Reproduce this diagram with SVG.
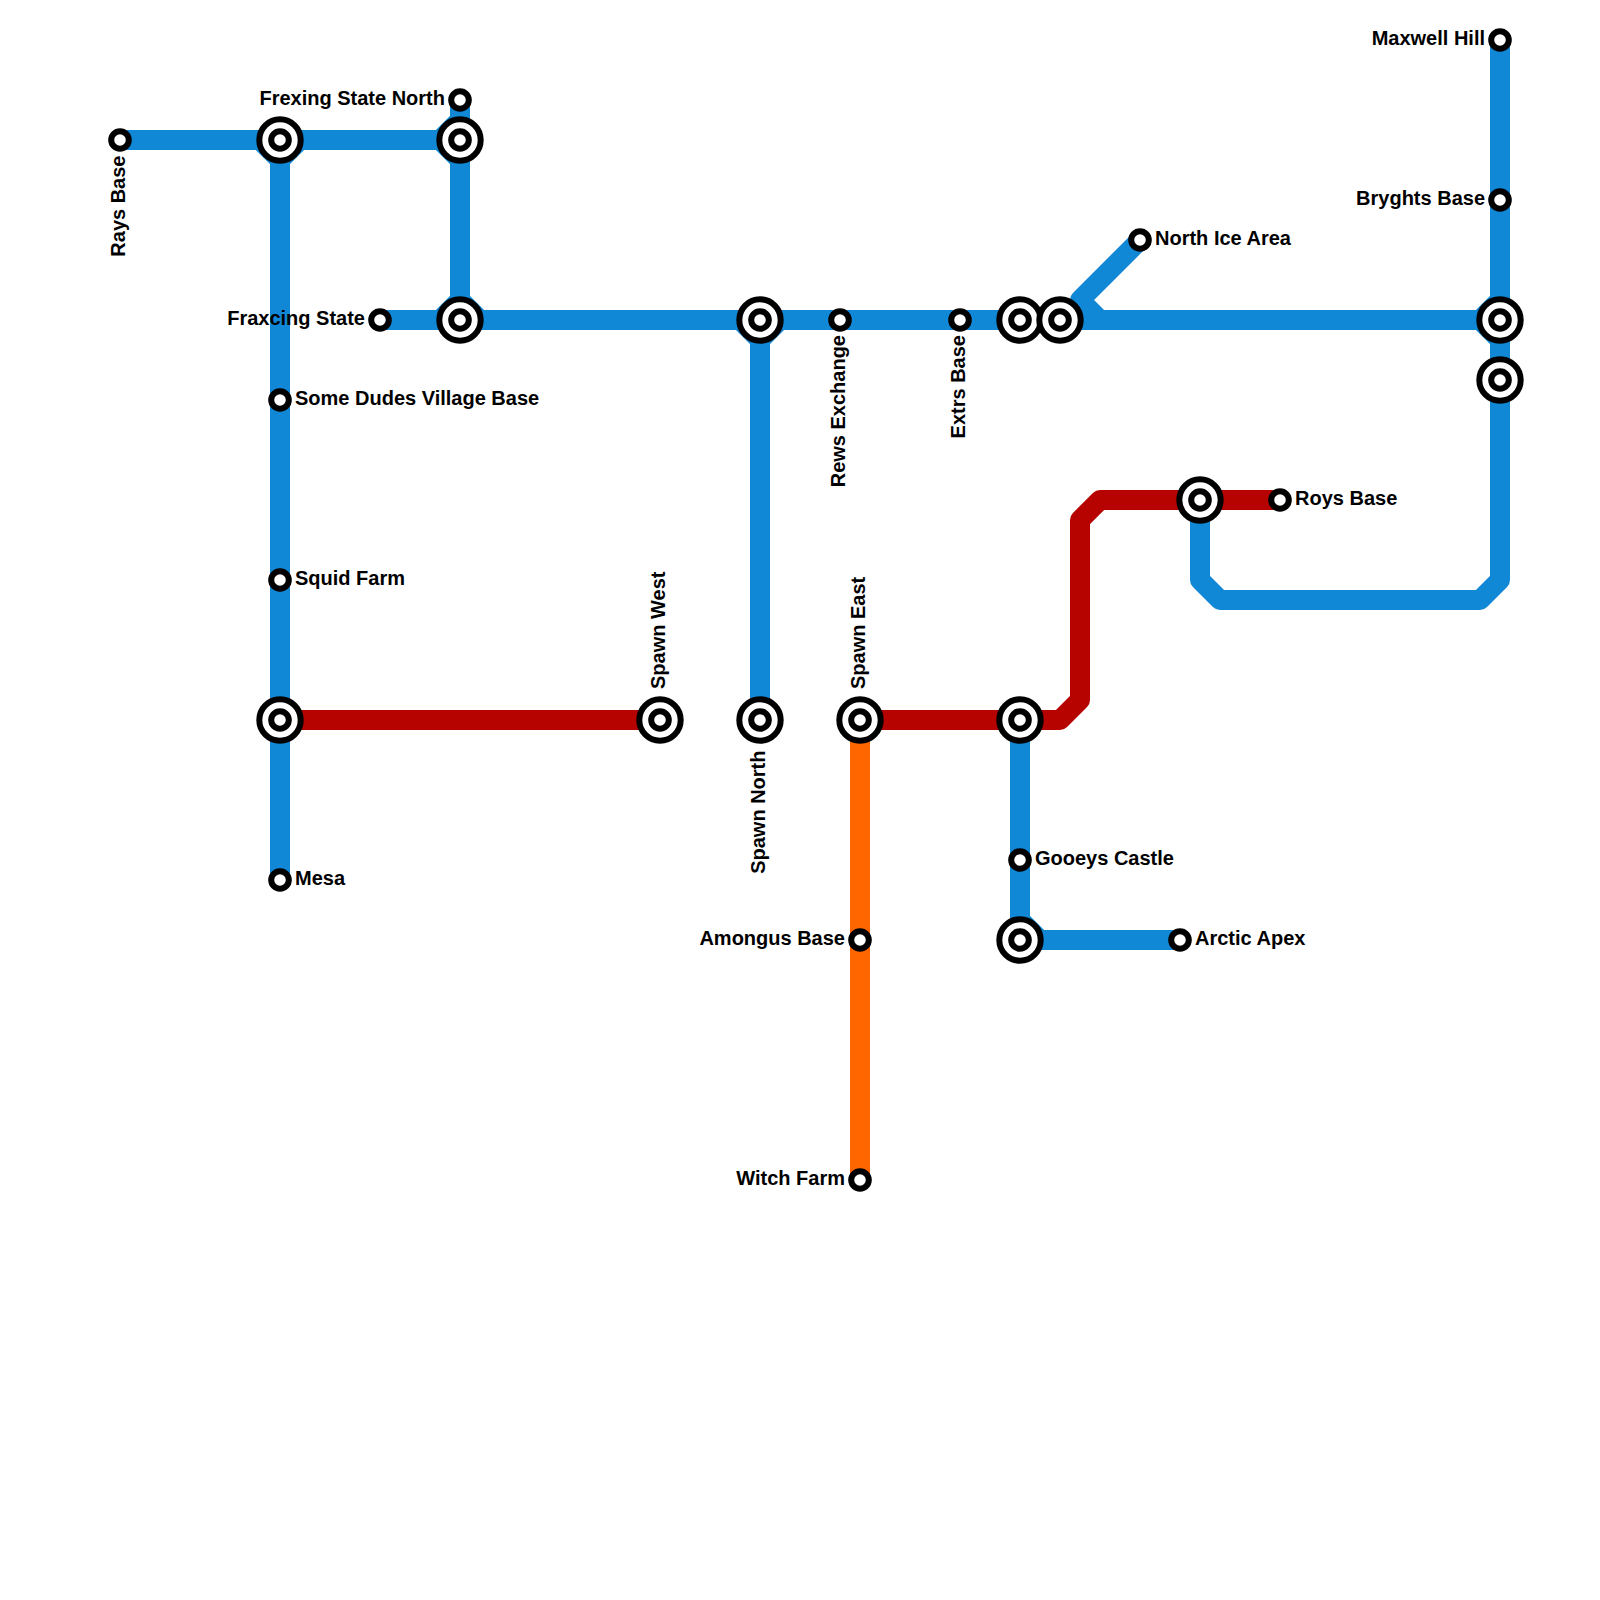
<svg xmlns="http://www.w3.org/2000/svg" width="1600" height="1600" viewBox="0 0 1600 1600">
<style>
.l{fill:none;stroke-width:20;stroke-linejoin:round;stroke-linecap:butt}
.b{stroke:#1188d6}.r{stroke:#b70300}.o{stroke:#ff6600}
.c{fill:#fff;stroke:#000}
.s{stroke-width:6}
.t{stroke-width:6}
text{font-family:"Liberation Sans",Arial,sans-serif;font-size:20px;font-weight:700;fill:#000}
.e{text-anchor:end}
</style>
<rect width="1600" height="1600" fill="#fff"/>
<g id="connectors">
<path class="l b" d="M120 140H260L280 160V880"/>
<path class="l b" d="M280 160L300 140H440L460 120V100"/>
<path class="l b" d="M440 140L460 160V300L440 320H380"/>
<path class="l b" d="M460 300L480 320H740L760 340V720"/>
<path class="l b" d="M760 340L780 320H1100L1080 300L1140 240"/>
<path class="l b" d="M1100 320H1480L1500 300V40"/>
<path class="l b" d="M1480 320L1500 340V580L1480 600H1220L1200 580V500"/>
<path class="l b" d="M1020 720V920L1040 940H1180"/>
<path class="l r" d="M280 720H660"/>
<path class="l r" d="M860 720H1060L1080 700V520L1100 500H1280"/>
<path class="l o" d="M860 720V1180"/>
</g>
<defs>
<g id="st"><circle class="c s" r="8.8"/></g>
<g id="ic"><circle class="c t" r="20.7"/><circle class="c s" r="8.8"/></g>
</defs>
<g id="rays-base"><use href="#st" x="120" y="140"/><text transform="translate(125 155.5) rotate(-90)" class="e">Rays Base</text></g>
<g id="junction-280-140"><use href="#ic" x="280" y="140"/></g>
<g id="junction-460-140"><use href="#ic" x="460" y="140"/></g>
<g id="frexing-state-north"><use href="#st" x="460" y="100"/><text x="445" y="105" class="e">Frexing State North</text></g>
<g id="fraxcing-state"><use href="#st" x="380" y="320"/><text x="365" y="325" class="e">Fraxcing State</text></g>
<g id="junction-460-320"><use href="#ic" x="460" y="320"/></g>
<g id="junction-760-320"><use href="#ic" x="760" y="320"/></g>
<g id="rews-exchange"><use href="#st" x="840" y="320"/><text transform="translate(845 335) rotate(-90)" class="e">Rews Exchange</text></g>
<g id="extrs-base"><use href="#st" x="960" y="320"/><text transform="translate(965 335) rotate(-90)" class="e">Extrs Base</text></g>
<g id="junction-1020-320"><use href="#ic" x="1020" y="320"/></g>
<g id="junction-1060-320"><use href="#ic" x="1060" y="320"/></g>
<g id="north-ice-area"><use href="#st" x="1140" y="240"/><text x="1155" y="245">North Ice Area</text></g>
<g id="maxwell-hill"><use href="#st" x="1500" y="40"/><text x="1485" y="45" class="e">Maxwell Hill</text></g>
<g id="bryghts-base"><use href="#st" x="1500" y="200"/><text x="1485" y="205" class="e">Bryghts Base</text></g>
<g id="junction-1500-320"><use href="#ic" x="1500" y="320"/></g>
<g id="junction-1500-380"><use href="#ic" x="1500" y="380"/></g>
<g id="some-dudes-village-base"><use href="#st" x="280" y="400"/><text x="295" y="405">Some Dudes Village Base</text></g>
<g id="squid-farm"><use href="#st" x="280" y="580"/><text x="295" y="585">Squid Farm</text></g>
<g id="junction-280-720"><use href="#ic" x="280" y="720"/></g>
<g id="mesa"><use href="#st" x="280" y="880"/><text x="295" y="885">Mesa</text></g>
<g id="spawn-west"><use href="#ic" x="660" y="720"/><text transform="translate(665 689) rotate(-90)">Spawn West</text></g>
<g id="spawn-north"><use href="#ic" x="760" y="720"/><text transform="translate(765 750.5) rotate(-90)" class="e">Spawn North</text></g>
<g id="spawn-east"><use href="#ic" x="860" y="720"/><text transform="translate(865 689) rotate(-90)">Spawn East</text></g>
<g id="junction-1020-720"><use href="#ic" x="1020" y="720"/></g>
<g id="gooeys-castle"><use href="#st" x="1020" y="860"/><text x="1035" y="865">Gooeys Castle</text></g>
<g id="junction-1020-940"><use href="#ic" x="1020" y="940"/></g>
<g id="arctic-apex"><use href="#st" x="1180" y="940"/><text x="1195" y="945">Arctic Apex</text></g>
<g id="amongus-base"><use href="#st" x="860" y="940"/><text x="845" y="945" class="e">Amongus Base</text></g>
<g id="witch-farm"><use href="#st" x="860" y="1180"/><text x="845" y="1185" class="e">Witch Farm</text></g>
<g id="junction-1200-500"><use href="#ic" x="1200" y="500"/></g>
<g id="roys-base"><use href="#st" x="1280" y="500"/><text x="1295" y="505">Roys Base</text></g>
</svg>
